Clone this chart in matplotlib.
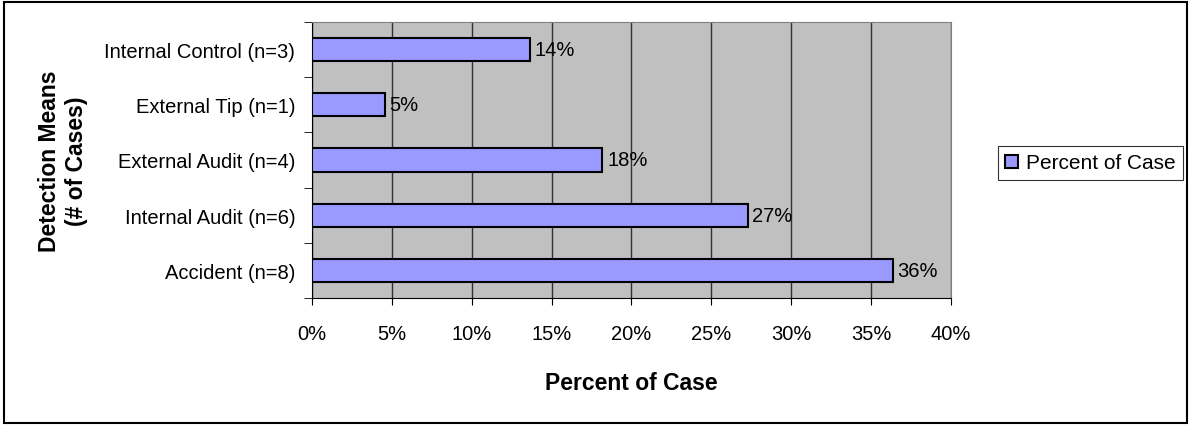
import matplotlib.pyplot as plt
from matplotlib.patches import Rectangle

categories = ['Accident (n=8)', 'Internal Audit (n=6)', 'External Audit (n=4)',
              'External Tip (n=1)', 'Internal Control (n=3)']
percents = [36.36, 27.27, 18.18, 4.55, 13.64]
bar_labels = ['36%', '27%', '18%', '5%', '14%']

plt.rcParams['font.family'] = ['Liberation Sans', 'DejaVu Sans']

fig = plt.figure(figsize=(11.92, 4.27), dpi=100)
ax = fig.add_axes([0.2617, 0.2998, 0.5361, 0.6464])

ypos = list(range(len(categories)))
bars = ax.barh(ypos, percents, height=0.42, color='#9999FF',
               edgecolor='black', linewidth=1.5, zorder=3,
               label='Percent of Case')
for y, v, t in zip(ypos, percents, bar_labels):
    ax.text(v + 0.3, y, t, va='center', ha='left', fontsize=14.5, zorder=4)

ax.set_facecolor('#C0C0C0')
ax.set_xlim(0, 40)
ax.set_ylim(-0.5, 4.5)
ax.set_xticks(range(0, 41, 5))
ax.set_xticklabels([f'{x}%' for x in range(0, 41, 5)], fontsize=14.5)
ax.xaxis.grid(True, color='#303030', linewidth=1, zorder=1)
ax.tick_params(axis='x', length=5, pad=14, color='black')

# category labels centred, tick marks between categories
ax.set_yticks(ypos)
ax.set_yticklabels(categories, fontsize=14.5)
ax.tick_params(axis='y', length=0, pad=12)
ax.set_yticks([i - 0.5 for i in range(len(categories) + 1)], minor=True)
ax.tick_params(axis='y', which='minor', length=6, color='black')

for s in ['top', 'right']:
    ax.spines[s].set_color('#808080')
ax.spines['left'].set_color('black')
ax.spines['bottom'].set_color('black')

ax.set_xlabel('Percent of Case', fontsize=16.5, fontweight='bold', labelpad=20)
ax.set_ylabel('Detection Means\n(# of Cases)', fontsize=16.5, fontweight='bold',
              labelpad=12, linespacing=1.2)

leg = fig.legend(handles=[bars], loc='center left',
                 bbox_to_anchor=(0.8283, 0.616), fontsize=15, frameon=True,
                 fancybox=False, edgecolor='black', handlelength=0.6,
                 handleheight=0.6, handletextpad=0.4, borderpad=0.35)
leg.get_frame().set_linewidth(0.8)

fig.patches.append(Rectangle((0.003, 0.006), 0.993, 0.988,
                             transform=fig.transFigure, fill=False,
                             edgecolor='black', linewidth=1.5))

plt.savefig('out.png', dpi=100)
